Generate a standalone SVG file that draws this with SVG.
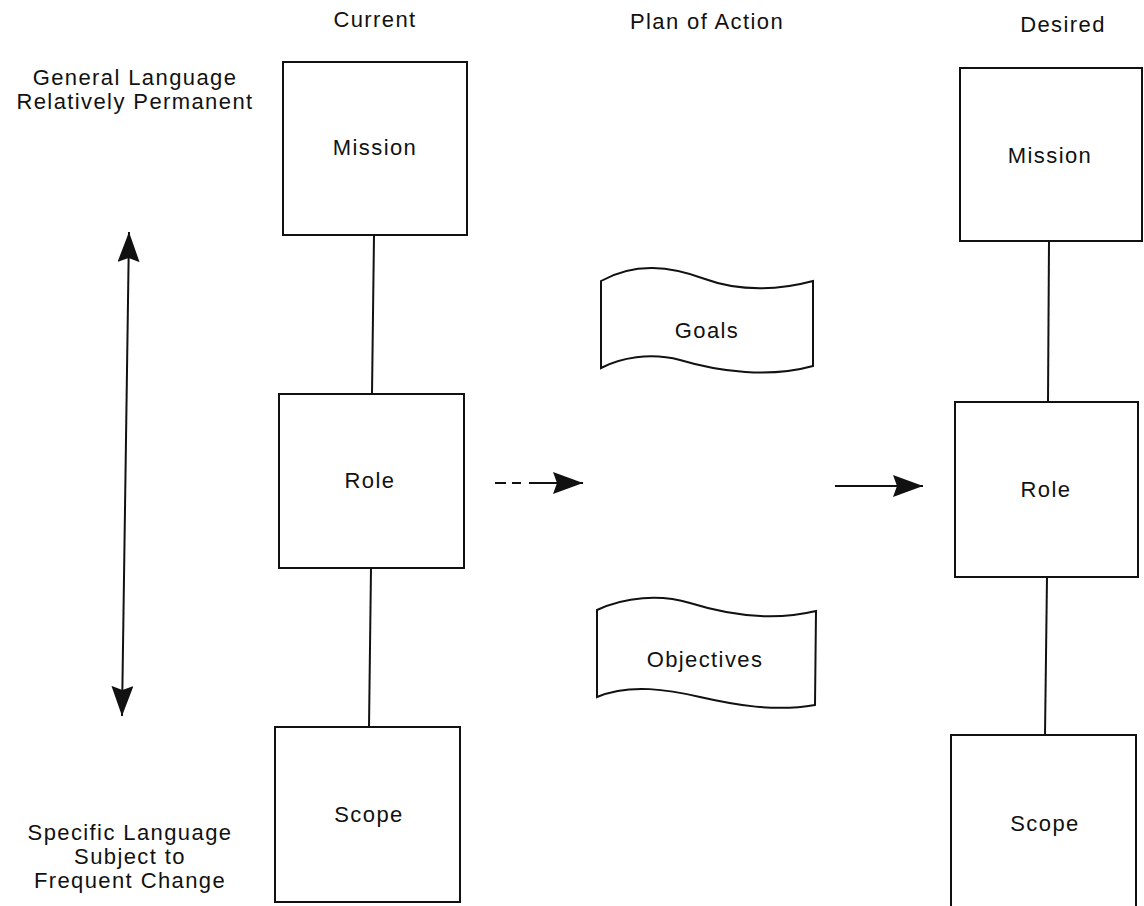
<svg xmlns="http://www.w3.org/2000/svg" width="1144" height="906" viewBox="0 0 1144 906">
<style>
text{font-family:"Liberation Sans",Arial,sans-serif;font-size:22px;fill:#111;text-anchor:middle;letter-spacing:1.4px}
.box{fill:#fff;stroke:#111;stroke-width:2}
.ln{stroke:#111;stroke-width:2;fill:none}
</style>
<defs>
<marker id="ah" viewBox="0 0 30 22" refX="30" refY="11" markerWidth="30" markerHeight="22" markerUnits="userSpaceOnUse" orient="auto-start-reverse">
<path d="M0,0 L30,11 L0,22 L4,11 Z" fill="#111"/>
</marker>
</defs>
<g id="headers">
<text x="375" y="27">Current</text>
<text x="707" y="29">Plan of Action</text>
<text x="1063" y="32">Desired</text>
</g>
<g id="label-general">
<text x="135" y="85">General Language</text>
<text x="135" y="109">Relatively Permanent</text>
</g>
<g id="label-specific">
<text x="130" y="840">Specific Language</text>
<text x="130" y="864">Subject to</text>
<text x="130" y="888">Frequent Change</text>
</g>
<g id="connectors">
<line class="ln" x1="374" y1="235" x2="372" y2="394"/>
<line class="ln" x1="371" y1="568" x2="369" y2="727"/>
<line class="ln" x1="1049" y1="241" x2="1048" y2="402"/>
<line class="ln" x1="1047" y1="577" x2="1045" y2="735"/>
<line class="ln" x1="129" y1="232" x2="122" y2="716" marker-start="url(#ah)" marker-end="url(#ah)"/>
<line class="ln" x1="495" y1="483" x2="583" y2="483" stroke-dasharray="11 6 9 8 60" marker-end="url(#ah)"/>
<line class="ln" x1="835" y1="486" x2="923" y2="486" marker-end="url(#ah)"/>
</g>
<g id="current-mission">
<rect class="box" x="283" y="62" width="184" height="173"/>
<text x="375" y="155">Mission</text>
</g>
<g id="current-role">
<rect class="box" x="279" y="394" width="185" height="174"/>
<text x="370" y="488">Role</text>
</g>
<g id="current-scope">
<rect class="box" x="275" y="727" width="185" height="175"/>
<text x="369" y="822">Scope</text>
</g>
<g id="goals">
<path class="box" d="M601,281 C635,262 670,266 705,279 C740,292 780,290 813,281 L813,366 C770,378 720,372 680,360 C650,352 620,358 601,368 Z"/>
<text x="707" y="338">Goals</text>
</g>
<g id="objectives">
<path class="box" d="M597,610 C625,597 660,594 690,603 C725,614 770,622 816,611 L815,705 C775,712 735,705 700,697 C670,690 630,683 597,697 Z"/>
<text x="705" y="667">Objectives</text>
</g>
<g id="desired-mission">
<rect class="box" x="960" y="68" width="182" height="173"/>
<text x="1050" y="163">Mission</text>
</g>
<g id="desired-role">
<rect class="box" x="955" y="402" width="183" height="175"/>
<text x="1046" y="497">Role</text>
</g>
<g id="desired-scope">
<rect class="box" x="951" y="735" width="185" height="175"/>
<text x="1045" y="831">Scope</text>
</g>
</svg>
